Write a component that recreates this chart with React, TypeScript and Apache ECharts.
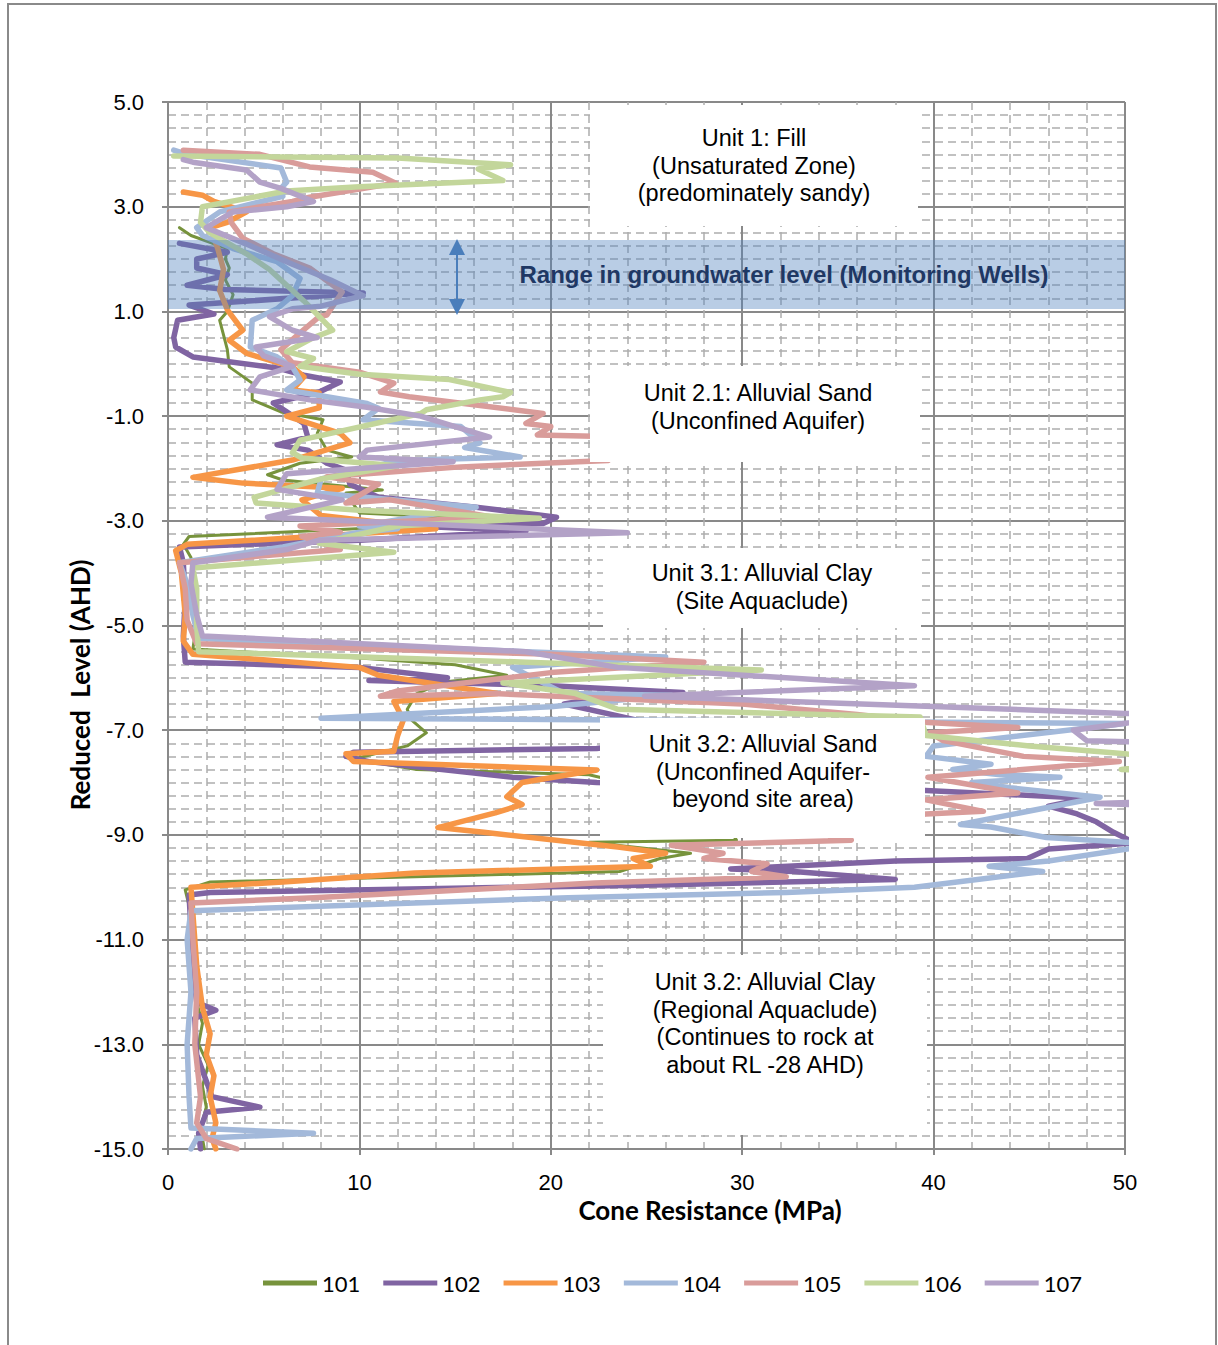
import React, { useEffect, useRef } from "react";
import * as echarts from "echarts";

// ---------- DATA ----------
const wells = ["101", "102", "103", "104", "105", "106", "107"];

// [cone resistance (MPa), reduced level (m AHD)]
const cpt101: number[][] = [
  [0.6, 2.6], [1.2, 2.45], [3.1, 2.2], [3.0, 2.0], [3.2, 1.83], [3.0, 1.6], [3.4, 1.32], [3.1, 1.0], [2.7, 0.83], [2.9, 0.55],
  [3.1, 0.27], [3.2, -0.06], [4.4, -0.37], [4.4, -0.69], [5.9, -0.92], [8.1, -1.07], [7.8, -1.33], [8.3, -1.65], [9.6, -1.78],
  [6.9, -1.9], [5.2, -2.12], [6.0, -2.22], [11.2, -2.41], [9.3, -2.47], [10.0, -2.85], [15.6, -2.95], [11.8, -3.12], [1.1, -3.3],
  [0.8, -3.45], [1.2, -3.7], [1.3, -4.2], [1.5, -4.7], [1.4, -5.2], [1.3, -5.45], [10, -5.62], [15, -5.75], [17.7, -5.95],
  [14.4, -6.08], [13, -6.3], [12.5, -6.6], [12.7, -6.8], [13.5, -7.05], [12.5, -7.3], [9.7, -7.55], [13, -7.75], [22, -7.85],
  [26, -8.2], [29, -8.7], [29.7, -9.1], [22, -9.14], [27.3, -9.35], [25.7, -9.45], [23.6, -9.7], [2.2, -9.9], [0.9, -10.05],
  [1.2, -10.5], [1.3, -11.5], [1.5, -12.2], [1.8, -12.6], [1.6, -13], [2.1, -13.4], [1.8, -13.8], [2.0, -14.2], [1.7, -14.6], [1.9, -15]
];
const cpt102: number[][] = [
  [0.6, 2.3], [3.1, 2.13], [1.5, 2.0], [1.5, 1.83], [3.1, 1.7], [1.0, 1.5], [3.0, 1.42], [10.2, 1.35], [1.1, 1.12], [2.4, 0.95],
  [0.5, 0.83], [0.3, 0.5], [0.4, 0.32], [1.3, 0.13], [5.7, -0.08], [7.1, -0.22], [9.0, -0.35], [7.9, -0.54], [5.5, -0.75],
  [6.2, -0.92], [7.1, -1.14], [7.3, -1.4], [5.7, -1.55], [7.3, -1.65], [8.3, -1.9], [9.3, -2.03], [9.5, -2.3], [11, -2.55],
  [16.1, -2.74], [20.3, -2.93], [19.6, -3.05], [14, -3.12], [18.7, -3.2], [10, -3.37], [0.6, -3.5], [0.8, -3.8], [0.9, -4.5],
  [0.8, -5.2], [0.9, -5.7], [10, -5.8], [14.6, -6.0], [10.5, -6.05], [20, -6.15], [26.9, -6.28], [23.5, -6.32], [20.7, -6.5],
  [23.8, -6.75], [28, -7.1], [22.4, -7.35], [9.7, -7.42], [9.3, -7.5], [10.5, -7.6], [18, -7.9], [22.4, -8.0], [35, -8.1],
  [39.6, -8.15], [48, -8.3], [46, -8.45], [47.5, -8.6], [48.5, -8.75], [49.4, -8.95], [50.5, -9.15], [46, -9.27], [44.9, -9.45],
  [38, -9.5], [29.4, -9.65], [32.7, -9.7], [38, -9.85], [26.2, -9.95], [2.2, -10.1], [1.1, -10.15], [1.2, -10.8], [1.3, -11.6],
  [1.5, -12.2], [2.5, -12.35], [1.4, -12.5], [1.5, -13.2], [1.9, -13.6], [2.3, -14.0], [4.8, -14.2], [2.0, -14.3], [1.6, -14.7], [1.7, -15]
];
const cpt103: number[][] = [
  [0.8, 3.28], [1.8, 3.22], [2.4, 3.1], [4.1, 2.9], [3.1, 2.7], [2.2, 2.6], [2.6, 2.2], [2.9, 1.8], [2.7, 1.4], [3.1, 1.03],
  [3.9, 0.64], [3.2, 0.45], [4.1, 0.2], [6.5, -0.06], [7.1, -0.25], [6.5, -0.5], [7.9, -0.56], [7.9, -0.84], [6.2, -1.0],
  [9.0, -1.33], [9.5, -1.51], [7.8, -1.7], [6.5, -1.84], [1.3, -2.17], [3.9, -2.28], [9.1, -2.38], [7.0, -2.6], [8.0, -2.9],
  [14.0, -3.15], [1.0, -3.45], [0.4, -3.57], [0.7, -4.0], [0.9, -4.8], [0.8, -5.3], [1.3, -5.55], [10, -5.8], [11, -5.95],
  [17.2, -6.3], [11.8, -6.45], [12.3, -6.8], [12, -7.1], [11.8, -7.4], [9.3, -7.45], [9.7, -7.6], [22.4, -7.76], [18.5, -8.0],
  [17.7, -8.27], [18.5, -8.42], [17.1, -8.58], [14.1, -8.86], [16.5, -8.95], [23.5, -9.23], [26, -9.35], [24.3, -9.45],
  [25.2, -9.6], [12.9, -9.73], [6, -9.9], [1.2, -10.0], [1.3, -10.5], [1.5, -11.5], [1.8, -12.3], [2.2, -12.8], [2.0, -13.2],
  [2.4, -13.6], [2.2, -14.0], [2.5, -14.5], [2.3, -14.8], [2.5, -15]
];
const cpt104: number[][] = [
  [0.3, 4.08], [1, 4.0], [5.9, 3.74], [6.2, 3.47], [5.9, 3.35], [6.0, 3.2], [2.7, 2.9], [1.5, 2.6], [1.8, 2.45], [3.4, 2.2],
  [5.7, 1.95], [6.9, 1.63], [6.5, 1.3], [5.7, 1.05], [4.4, 0.83], [4.3, 0.32], [5.7, 0.13], [6.5, -0.06], [6.9, -0.31],
  [6.2, -0.5], [10.4, -0.76], [11, -0.85], [10.2, -1.07], [15.3, -1.2], [16.3, -1.51], [15.5, -1.6], [18.4, -1.78], [12, -1.85],
  [8, -2.2], [7.8, -2.47], [16.1, -2.74], [10, -3.1], [12, -3.15], [10, -3.22], [6, -3.5], [0.6, -3.8], [1.0, -4.2], [1.3, -4.8],
  [1.6, -5.25], [18.7, -5.5], [26, -5.6], [18, -5.8], [20.7, -6.3], [26.3, -6.33], [20, -6.55], [8, -6.77], [30, -6.82],
  [50, -6.87], [40, -7.3], [39.6, -7.5], [43, -7.65], [41, -7.75], [43.5, -7.85], [46.6, -7.9], [42, -8.0], [44, -8.1],
  [48.7, -8.28], [41.4, -8.8], [43, -8.85], [45.9, -9.05], [50.5, -9.15], [50.5, -9.25], [46, -9.5], [42.9, -9.6], [45.7, -9.7],
  [39, -10.0], [32.3, -10.1], [20.9, -10.2], [1.2, -10.45], [1.0, -11], [1.2, -12], [1.0, -13], [1.1, -14], [1.2, -14.6],
  [7.6, -14.7], [1.5, -14.8], [1.2, -15]
];
const cpt105: number[][] = [
  [0.8, 4.08], [4.8, 4.0], [7.4, 3.76], [10.7, 3.66], [11.9, 3.45], [7.4, 3.18], [6.5, 3.1], [3.2, 2.9], [3.3, 2.7], [3.9, 2.4],
  [5.5, 2.1], [7.4, 1.83], [9.1, 1.37], [8.3, 0.93], [7.9, 0.9], [6.9, 0.59], [5.9, 0.27], [6.5, 0.02], [10, -0.16],
  [11.8, -0.37], [11.1, -0.54], [12.6, -0.63], [19.6, -0.95], [18.7, -1.14], [20, -1.2], [19.3, -1.36], [24, -1.4], [23, -1.85],
  [15.3, -1.97], [8.3, -2.16], [11, -2.3], [9.3, -2.66], [11.6, -2.6], [17, -2.93], [6.9, -3.1], [9, -3.22], [7, -3.3],
  [9, -3.55], [0.6, -3.8], [0.9, -4.3], [1.0, -4.9], [1.5, -5.35], [20, -5.55], [28, -5.7], [20, -5.9], [12, -6.25],
  [11.1, -6.35], [17, -6.3], [30, -6.5], [36, -6.7], [39.5, -6.85], [44.4, -6.95], [39.8, -7.05], [40.5, -7.2], [44.7, -7.5],
  [49.7, -7.6], [39.7, -7.9], [44.4, -8.2], [39.6, -8.33], [42.6, -8.55], [39.6, -8.6], [33, -8.9], [35.7, -9.1], [26.3, -9.2],
  [29, -9.35], [28, -9.45], [31.3, -9.55], [30.5, -9.7], [32.3, -9.8], [22.3, -9.92], [7.6, -10.2], [1.2, -10.3], [1.3, -11],
  [1.5, -12], [1.4, -13], [1.7, -14], [1.5, -14.5], [2.0, -14.8], [3.6, -15]
];
const cpt106: number[][] = [
  [0.3, 3.97], [12, 3.93], [17.9, 3.8], [16.2, 3.72], [17.5, 3.5], [10, 3.38], [6.2, 3.3], [1.8, 3.0], [1.7, 2.7], [2.2, 2.5],
  [4.1, 2.1], [5.3, 1.8], [6.2, 1.5], [7.1, 1.2], [8.6, 0.64], [7.6, 0.5], [6.2, 0.23], [7.6, 0.1], [6.9, -0.05], [10, -0.2],
  [14.7, -0.3], [17.9, -0.55], [17.5, -0.63], [16.3, -0.69], [13.5, -0.88], [13.2, -0.95], [6.9, -1.46], [6.5, -1.7],
  [7.0, -1.8], [12, -1.95], [8, -2.2], [4.5, -2.55], [4.6, -2.66], [10, -2.8], [19.4, -2.95], [12, -3.1], [7.9, -3.43],
  [11.8, -3.6], [1.3, -3.9], [1.5, -4.3], [1.5, -5.0], [1.6, -5.5], [18.7, -5.7], [31, -5.85], [17.5, -6.1], [21.3, -6.3],
  [23.5, -6.6], [39.3, -6.75], [39.6, -7.1], [45, -7.3], [50, -7.45], [53, -7.6], [49.8, -7.75], [53, -7.8]
];
const cpt107: number[][] = [
  [0.8, 3.9], [1.3, 3.85], [4.1, 3.7], [4.8, 3.47], [5.9, 3.35], [7.6, 3.1], [6.2, 3.0], [3.4, 2.9], [2.0, 2.6], [4, 2.3],
  [6.5, 1.9], [8.5, 1.6], [10.2, 1.3], [8, 1.1], [6.5, 1.05], [5.3, 0.9], [6.5, 0.64], [7.8, 0.5], [4.6, 0.32], [5, 0.15],
  [6.5, -0.05], [4.8, -0.25], [4.3, -0.5], [7.4, -0.69], [10.4, -0.83], [13.2, -1.0], [16.8, -1.4], [10.4, -1.65],
  [10, -1.78], [14.9, -1.87], [6.2, -2.1], [5.7, -2.4], [9.1, -2.6], [5.2, -2.93], [24, -3.23], [7.9, -3.37], [6.2, -3.55],
  [1.3, -3.8], [1.2, -4.2], [1.5, -4.8], [1.8, -5.2], [18.7, -5.5], [23.5, -5.8], [39, -6.15], [24.9, -6.35], [50, -6.68],
  [53, -6.72], [47.3, -7.0], [48, -7.2], [53, -7.25], [53, -8.35], [48.5, -8.4], [53, -8.45]
];
const profiles = [cpt101, cpt102, cpt103, cpt104, cpt105, cpt106, cpt107];

const xMin = 0, xMax = 50, xStep = 10;
const yMin = -15, yMax = 5, yStep = 2;

const bandText = "Range in groundwater level (Monitoring Wells)";
const unitNotes: string[][] = [
  ["Unit 1: Fill", "(Unsaturated Zone)", "(predominately sandy)"],
  ["Unit 2.1: Alluvial Sand", "(Unconfined Aquifer)"],
  ["Unit 3.1: Alluvial Clay", "(Site Aquaclude)"],
  ["Unit 3.2: Alluvial Sand", "(Unconfined Aquifer-", "beyond site area)"],
  ["Unit 3.2: Alluvial Clay", "(Regional Aquaclude)", "(Continues to rock at", "about RL -28 AHD)"],
];
const xTitle = "Cone Resistance (MPa)";
const yTitle = "Reduced  Level (AHD)";

// ---------- STYLE ----------
const colors = ["#77933C", "#8064A2", "#F79646", "#A3B9DA", "#D99C9A", "#C3D69B", "#B3A2C7"];
const widths = [3, 5.5, 5.5, 5.5, 5.5, 5.5, 5.5];
// note boxes: [x, y, w, h, center x, first line center y]
const boxes = [
  [590, 105, 328, 121, 754, 138],
  [590, 366, 330, 96, 758, 393],
  [603, 548, 318, 80, 762, 573],
  [600, 718, 325, 120, 763, 744],
  [603, 955, 324, 180, 765, 982],
];

export default function App() {
  const ref = useRef<HTMLDivElement>(null);
  useEffect(() => {
    if (!ref.current) return;
    const chart = echarts.init(ref.current, undefined, { renderer: "svg" });
    const axisGray = "#898989";
    const tickFont = { fontFamily: "Liberation Sans", fontSize: 22, color: "#000" };

    const graphics: any[] = [];
    graphics.push({
      type: "rect", z: 60, silent: true,
      shape: { x: 8, y: 4, width: 1208, height: 1400 },
      style: { fill: "none", stroke: "#8A8A8A", lineWidth: 2 },
    });
    boxes.forEach((b, i) => {
      graphics.push({
        type: "rect", z: 50, silent: true,
        shape: { x: b[0], y: b[1], width: b[2], height: b[3] },
        style: { fill: "#fff" },
      });
      unitNotes[i].forEach((line, j) => {
        graphics.push({
          type: "text", z: 51, silent: true,
          x: b[4], y: b[5] + j * 27.7,
          style: {
            text: line, fill: "#000", font: '23.5px "Liberation Sans"',
            textAlign: "center", textVerticalAlign: "middle",
          },
        });
      });
    });
    graphics.push({
      type: "rect", z: 52, silent: true,
      shape: { x: 168, y: 240, width: 957, height: 69 },
      style: { fill: "rgba(79,129,189,0.4)" },
    });
    graphics.push({
      type: "text", z: 53, silent: true, x: 784, y: 274,
      style: {
        text: bandText, fill: "#1F3864", font: 'bold 24px "Liberation Sans"',
        textAlign: "center", textVerticalAlign: "middle",
      },
    });
    const ac = "#4A7EBB";
    graphics.push({ type: "line", z: 53, silent: true, shape: { x1: 457, y1: 250, x2: 457, y2: 304 }, style: { stroke: ac, lineWidth: 2 } });
    graphics.push({ type: "polygon", z: 53, silent: true, shape: { points: [[457, 239], [449, 255], [465, 255]] }, style: { fill: ac } });
    graphics.push({ type: "polygon", z: 53, silent: true, shape: { points: [[457, 315], [449, 299], [465, 299]] }, style: { fill: ac } });
    graphics.push({
      type: "text", z: 53, silent: true, x: 710, y: 1210,
      style: { text: xTitle, fill: "#000", font: 'bold 26px Lato', textAlign: "center", textVerticalAlign: "middle" },
    });
    graphics.push({
      type: "text", z: 53, silent: true, x: 80, y: 685, rotation: Math.PI / 2,
      style: { text: yTitle, fill: "#000", font: 'bold 26px Lato', textAlign: "center", textVerticalAlign: "middle" },
    });

    chart.setOption({
      animation: false,
      backgroundColor: "#fff",
      grid: { left: 168, top: 102, width: 957, height: 1047 },
      xAxis: {
        type: "value", min: xMin, max: xMax, interval: xStep,
        axisLine: { show: true, onZero: false, lineStyle: { color: axisGray, width: 2 } },
        axisTick: { show: true, length: 6, lineStyle: { color: axisGray, width: 2 } },
        axisLabel: { ...tickFont, margin: 22 },
        splitLine: { show: true, lineStyle: { color: axisGray, width: 2 } },
        minorTick: { show: false, splitNumber: 5 },
        minorSplitLine: { show: true, lineStyle: { color: "#ADADAD", width: 1.5, type: [8, 5] } },
      },
      yAxis: {
        type: "value", min: yMin, max: yMax, interval: yStep,
        axisLine: { show: true, onZero: false, lineStyle: { color: axisGray, width: 2 } },
        axisTick: { show: true, length: 6, lineStyle: { color: axisGray, width: 2 } },
        axisLabel: { ...tickFont, margin: 24, formatter: (v: number) => v.toFixed(1) },
        splitLine: { show: true, lineStyle: { color: axisGray, width: 2 } },
        minorTick: { show: false, splitNumber: 8 },
        minorSplitLine: { show: true, lineStyle: { color: "#ADADAD", width: 1.5, type: [8, 5] } },
      },
      legend: {
        data: wells, left: 258, top: 1267, icon: "rect",
        itemWidth: 54, itemHeight: 5, itemGap: 23,
        textStyle: { fontFamily: "Lato", fontSize: 22, color: "#000" },
      },
      series: wells.map((w, i) => ({
        name: w, type: "line", data: profiles[i], showSymbol: false, symbol: "none",
        clip: true, smooth: false, z: 2 + i,
        lineStyle: { color: colors[i], width: widths[i], join: "round", cap: "round" },
        itemStyle: { color: colors[i] },
      })),
      graphic: graphics,
    });
    return () => chart.dispose();
  }, []);
  return <div ref={ref} style={{ position: "absolute", left: 0, top: 0, width: 1218, height: 1345 }} />;
}
